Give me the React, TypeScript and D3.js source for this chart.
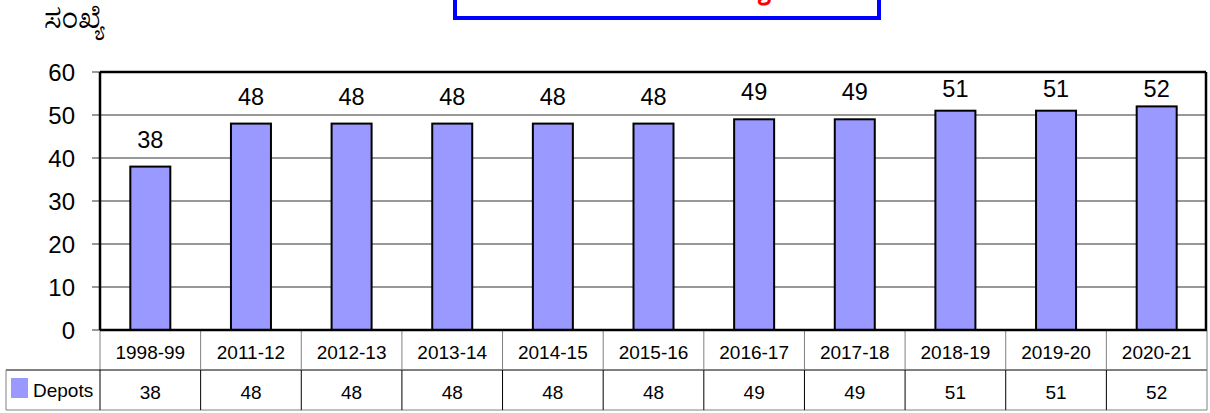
import React from "react";
import * as d3 from "d3";

const categories = ["1998-99", "2011-12", "2012-13", "2013-14", "2014-15", "2015-16", "2016-17", "2017-18", "2018-19", "2019-20", "2020-21"];
const depots = [38, 48, 48, 48, 48, 48, 49, 49, 51, 51, 52];
const yTicks = [0, 10, 20, 30, 40, 50, 60];
const seriesName = "Depots";
const yTitle = "ಸಂಖ್ಯೆ";
const chartTitle = "ಘಟಕಗಳ ಸಂಖ್ಯೆ";

const W = 1210, H = 413;
const left = 100, right = 1207, top = 72, bottom = 330;
const row1 = 370, row2 = 410;
const font = "Arial, 'Liberation Sans', sans-serif";

export default function App() {
  const x = d3.scaleBand<string>().domain(categories).range([left, right]).paddingInner(0).paddingOuter(0);
  const y = d3.scaleLinear().domain([0, 60]).range([bottom, top]);
  const bw = 40;
  return (
    <svg width={W} height={H} style={{ position: "absolute", left: 0, top: 0, background: "#fff" }}>
      {/* title box */}
      <rect x={455} y={-30} width={424} height={48} fill="#fff" stroke="#0000FF" strokeWidth={4} />
      <text x={667} y={-7} textAnchor="middle" fontSize={30} fill="#FF0000" fontFamily="'Noto Sans Kannada', 'Noto Serif Kannada', sans-serif" fontWeight="bold">{chartTitle}</text>
      {/* y title */}
      <text x={44} y={28} fontSize={27} fill="#000" fontFamily="'Noto Serif Kannada', 'Noto Sans Kannada', serif">{yTitle}</text>
      {/* gridlines */}
      {yTicks.filter(t => t > 0 && t < 60).map(t => (
        <line key={t} x1={left} x2={right} y1={y(t)} y2={y(t)} stroke="#333" strokeWidth={1} />
      ))}
      {/* ticks */}
      {yTicks.map(t => (
        <g key={"t" + t}>
          <line x1={92} x2={left} y1={y(t)} y2={y(t)} stroke="#333" strokeWidth={1} />
          <text x={75} y={y(t) + 8.5} textAnchor="end" fontSize={24} fontFamily={font} fill="#000">{t}</text>
        </g>
      ))}
      {/* bars */}
      {categories.map((c, i) => {
        const cx = (x(c) as number) + x.bandwidth() / 2;
        const ly = Math.max(y(depots[i]) - 19, 97);
        return (
          <g key={c}>
            <rect x={cx - bw / 2} y={y(depots[i])} width={bw} height={bottom - y(depots[i])} fill="#9999FF" stroke="#000" strokeWidth={2} />
            <text x={cx} y={ly} textAnchor="middle" fontSize={23.5} fontFamily={font} fill="#000">{depots[i]}</text>
          </g>
        );
      })}
      {/* plot frame */}
      <line x1={left} x2={right - 1} y1={top} y2={top} stroke="#000" strokeWidth={2.5} />
      <line x1={right - 1} x2={right - 1} y1={top} y2={bottom} stroke="#000" strokeWidth={2.5} />
      <line x1={left} x2={left} y1={top} y2={bottom} stroke="#000" strokeWidth={2.5} />
      {/* table */}
      <line x1={left} x2={left} y1={bottom} y2={row1} stroke="#808080" strokeWidth={1} />
      <line x1={6} x2={right} y1={row1} y2={row1} stroke="#000" strokeWidth={1} />
      <line x1={6} x2={right} y1={row2} y2={row2} stroke="#808080" strokeWidth={1} />
      <line x1={6} x2={6} y1={row1} y2={row2} stroke="#808080" strokeWidth={1} />
      <line x1={left} x2={left} y1={row1} y2={row2} stroke="#000" strokeWidth={1} />
      {categories.map((c, i) => {
        const x0 = x(c) as number;
        const x1 = x0 + x.bandwidth();
        const cx = x0 + x.bandwidth() / 2;
        return (
          <g key={"tb" + c}>
            <line x1={x1} x2={x1} y1={bottom} y2={row1} stroke="#808080" strokeWidth={1} />
            <line x1={x1} x2={x1} y1={row1} y2={row2} stroke={i === categories.length - 1 ? "#808080" : "#000"} strokeWidth={1} />
            <text x={cx} y={359} textAnchor="middle" fontSize={19} fontFamily={font} fill="#000">{c}</text>
            <text x={cx} y={399} textAnchor="middle" fontSize={19} fontFamily={font} fill="#000">{depots[i]}</text>
          </g>
        );
      })}
      <line x1={left} x2={right} y1={bottom} y2={bottom} stroke="#000" strokeWidth={2.5} />
      <rect x={11} y={378} width={17} height={20} fill="#9999FF" />
      <text x={33} y={397} fontSize={19} fontFamily={font} fill="#000">{seriesName}</text>
    </svg>
  );
}
